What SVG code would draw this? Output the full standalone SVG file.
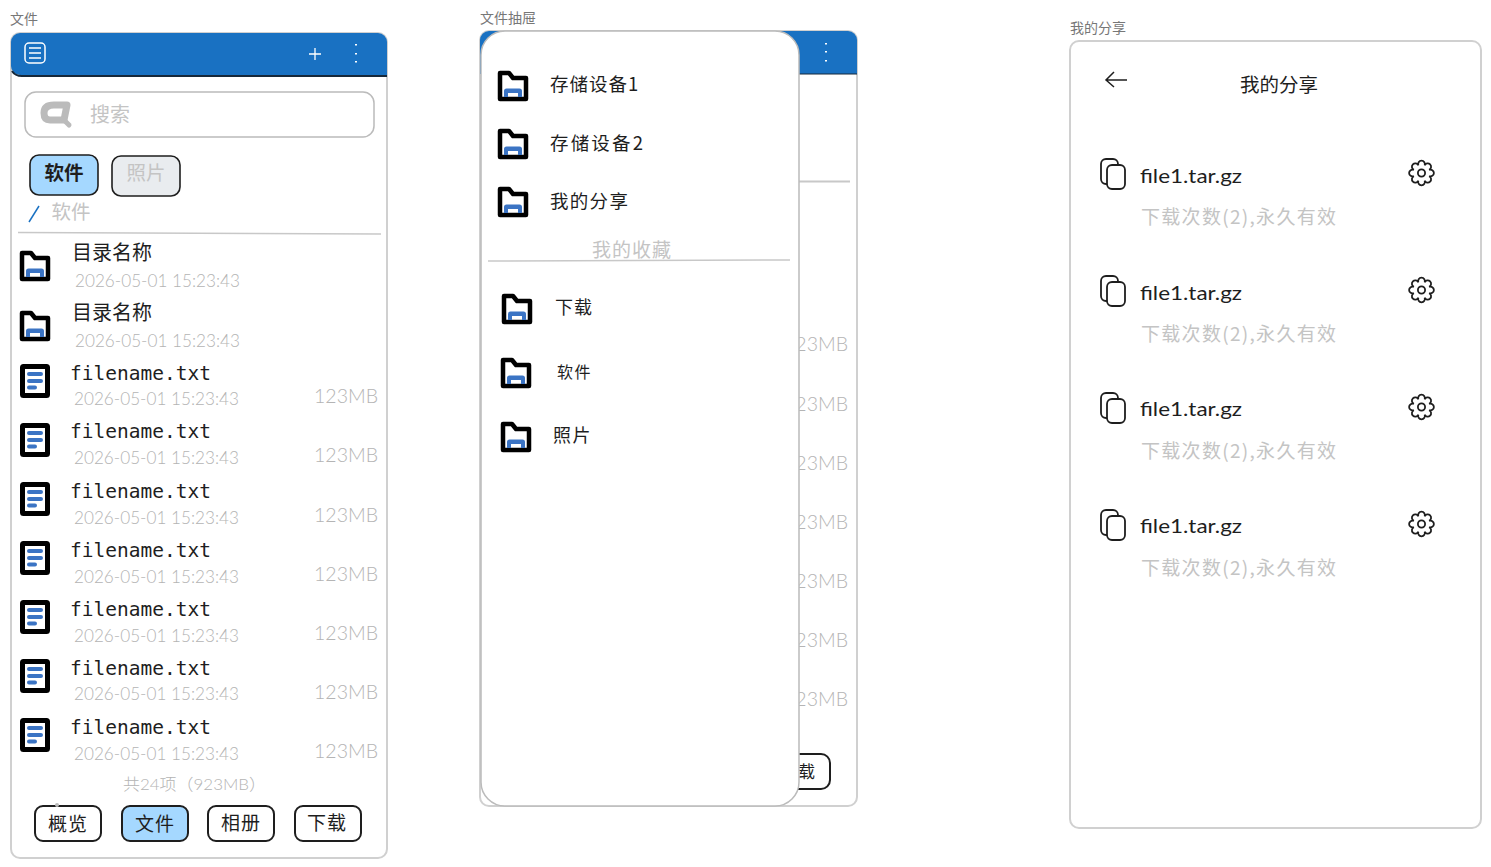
<svg xmlns="http://www.w3.org/2000/svg" width="1491" height="867" viewBox="0 0 1491 867">
<style>
text{font-family:"Noto Sans CJK SC","Liberation Sans",sans-serif;fill:#1e1e1e}
.cap{font-size:14px;fill:#777}
.gr{fill:#c4c4c4}
.lat{font-family:"Lato","Noto Sans CJK SC",sans-serif;font-weight:300;fill:#b4b4b4}
.name{font-size:19.5px;font-family:"DejaVu Sans Mono",monospace;fill:#1e1e1e}
.hand{font-family:"Lato","Noto Sans CJK SC",sans-serif;fill:#1e1e1e;font-size:20px}
.panel{fill:#fff;stroke:#d0d0d0;stroke-width:2}
.btn{fill:#fff;stroke:#1e1e1e;stroke-width:2}
.dv{stroke:#c8c8c8;stroke-width:1.5;fill:none}
.c{text-anchor:middle}
</style>
<defs>
<g id="folder"><path d="M2,2H11L15,7H28V28H2Z" fill="#fff" stroke="#000" stroke-width="4.500" stroke-linejoin="round"/><path d="M6,26V20q0-2.500 2.500-2.500H21.500q2.500 0 2.500 2.500v6h-4v-4H10v4z" fill="#3b74c4"/></g>
<g id="file"><rect x="2.500" y="2.500" width="25" height="29" rx="1" fill="#fff" stroke="#000" stroke-width="5"/><path d="M9,10H21M9,17H21M9,23.500H15" stroke="#3b74c4" stroke-width="4" stroke-linecap="round" fill="none"/></g>
<g id="copy" fill="#fff" stroke="#1e1e1e" stroke-width="1.800"><rect x="1" y="1" width="17" height="25" rx="5"/><rect x="7" y="7" width="18" height="24" rx="5"/></g>
<g id="gear" fill="none" stroke="#1e1e1e" stroke-width="1.800"><path d="M7.600,-3.100A3.400,3.400 0 1 1 7.600,3.100A3.400,3.400 0 1 1 3.100,7.600A3.400,3.400 0 1 1 -3.100,7.600A3.400,3.400 0 1 1 -7.600,3.100A3.400,3.400 0 1 1 -7.600,-3.100A3.400,3.400 0 1 1 -3.100,-7.600A3.400,3.400 0 1 1 3.100,-7.600A3.400,3.400 0 1 1 7.600,-3.100Z"/><circle r="3.600"/></g>
</defs>
<rect width="1491" height="867" fill="#fff"/>

<g id="files-screen">
<text class="cap" x="10" y="24">文件</text>
<rect class="panel" x="11" y="33" width="376" height="825" rx="9"/>
<g id="files-header">
<path d="M11,42a9,9 0 0 1 9-9H378a9,9 0 0 1 9,9V75H20a9,9 0 0 1-9-9Z" fill="#1971c2"/>
<path d="M12,71Q15,76 22,76H387" fill="none" stroke="#16283a" stroke-width="2"/>
<rect x="25" y="43" width="20" height="20" rx="4" fill="none" stroke="#fff" stroke-width="1.500"/>
<path d="M29,48H41M29,53H41M29,58H41" stroke="#fff" stroke-width="1.500" fill="none"/>
<path d="M309,54H321M315,48V60" stroke="#fff" stroke-width="1.300" fill="none"/>
<path d="M356,44v1.500M356,53v1.500M356,61v1.500" stroke="#fff" stroke-width="2" fill="none"/>
</g>
<g id="files-search">
<rect x="25" y="92" width="349" height="45" rx="11" fill="#fff" stroke="#bbb" stroke-width="1.500"/>
<path d="M44,113Q44,105 54,105H67L64,120H50Q44,120 44,113Z" fill="none" stroke="#bbb" stroke-width="7" stroke-linejoin="round"/>
<path d="M63,119L69,125" fill="none" stroke="#bbb" stroke-width="5" stroke-linecap="round"/>
<text class="gr" x="90" y="122" font-size="20">搜索</text>
</g>
<g id="tab-software"><rect x="30" y="155" width="68" height="40" rx="9" fill="#a5d8ff" stroke="#1e1e1e" stroke-width="1.600"/><text class="c" x="64" y="180" font-size="19.500" font-weight="700">软件</text></g>
<g id="tab-photos"><rect x="112" y="156" width="68" height="40" rx="9" fill="#e9ecef" stroke="#1e1e1e" stroke-width="1.600"/><text class="c gr" x="146" y="180" font-size="19.500">照片</text></g>
<g id="breadcrumb"><path d="M29,222L39,206" stroke="#1971c2" stroke-width="1.500" fill="none"/><text class="gr" x="51.500" y="219" font-size="19.500">软件</text></g>
<path class="dv" d="M18,232.500L381,234"/>

<g id="dir-1"><use href="#folder" x="20" y="251"/><text x="72" y="260" font-size="20">目录名称</text><text class="lat" x="75" y="287" font-size="17" textLength="165" lengthAdjust="spacingAndGlyphs">2026-05-01 15:23:43</text></g>
<g id="dir-2"><use href="#folder" x="20" y="311"/><text x="72" y="320" font-size="20">目录名称</text><text class="lat" x="75" y="347" font-size="17" textLength="165" lengthAdjust="spacingAndGlyphs">2026-05-01 15:23:43</text></g>
<g id="file-1"><use href="#file" x="20" y="364"/><text class="name" x="70" y="380">filename.txt</text><text class="lat" x="74" y="405" font-size="17" textLength="165" lengthAdjust="spacingAndGlyphs">2026-05-01 15:23:43</text><text class="lat" x="314" y="403" font-size="20" textLength="64" lengthAdjust="spacingAndGlyphs">123MB</text></g>
<g id="file-2"><use href="#file" x="20" y="423"/><text class="name" x="70" y="438">filename.txt</text><text class="lat" x="74" y="464" font-size="17" textLength="165" lengthAdjust="spacingAndGlyphs">2026-05-01 15:23:43</text><text class="lat" x="314" y="462" font-size="20" textLength="64" lengthAdjust="spacingAndGlyphs">123MB</text></g>
<g id="file-3"><use href="#file" x="20" y="482"/><text class="name" x="70" y="498">filename.txt</text><text class="lat" x="74" y="524" font-size="17" textLength="165" lengthAdjust="spacingAndGlyphs">2026-05-01 15:23:43</text><text class="lat" x="314" y="522" font-size="20" textLength="64" lengthAdjust="spacingAndGlyphs">123MB</text></g>
<g id="file-4"><use href="#file" x="20" y="541"/><text class="name" x="70" y="557">filename.txt</text><text class="lat" x="74" y="583" font-size="17" textLength="165" lengthAdjust="spacingAndGlyphs">2026-05-01 15:23:43</text><text class="lat" x="314" y="581" font-size="20" textLength="64" lengthAdjust="spacingAndGlyphs">123MB</text></g>
<g id="file-5"><use href="#file" x="20" y="600"/><text class="name" x="70" y="616">filename.txt</text><text class="lat" x="74" y="642" font-size="17" textLength="165" lengthAdjust="spacingAndGlyphs">2026-05-01 15:23:43</text><text class="lat" x="314" y="640" font-size="20" textLength="64" lengthAdjust="spacingAndGlyphs">123MB</text></g>
<g id="file-6"><use href="#file" x="20" y="659"/><text class="name" x="70" y="675">filename.txt</text><text class="lat" x="74" y="700" font-size="17" textLength="165" lengthAdjust="spacingAndGlyphs">2026-05-01 15:23:43</text><text class="lat" x="314" y="699" font-size="20" textLength="64" lengthAdjust="spacingAndGlyphs">123MB</text></g>
<g id="file-7"><use href="#file" x="20" y="718"/><text class="name" x="70" y="734">filename.txt</text><text class="lat" x="74" y="760" font-size="17" textLength="165" lengthAdjust="spacingAndGlyphs">2026-05-01 15:23:43</text><text class="lat" x="314" y="758" font-size="20" textLength="64" lengthAdjust="spacingAndGlyphs">123MB</text></g>
<text id="files-total" class="lat" x="123" y="790" font-size="16" textLength="143" lengthAdjust="spacingAndGlyphs">共24项（923MB）</text>
<g id="nav-overview"><rect class="btn" x="35" y="806" width="66" height="35" rx="8"/><text class="c" x="68" y="831" font-size="19" letter-spacing="1">概览</text></g>
<g id="nav-files"><rect class="btn" x="122" y="806" width="66" height="35" rx="8" style="fill:#a5d8ff"/><text class="c" x="155" y="831" font-size="19" letter-spacing="1">文件</text></g>
<g id="nav-album"><rect class="btn" x="208" y="806" width="66" height="35" rx="8"/><text class="c" x="241" y="830" font-size="19" letter-spacing="1">相册</text></g>
<g id="nav-download"><rect class="btn" x="295" y="806" width="66" height="35" rx="8"/><text class="c" x="327" y="830" font-size="19" letter-spacing="1">下载</text></g>
<circle cx="57" cy="805" r="2" fill="#bbb"/>
</g>

<g id="drawer-screen">
<text class="cap" x="480" y="23">文件抽屉</text>
<rect class="panel" x="480" y="31" width="377" height="775" rx="9"/>
<path d="M480,40a9,9 0 0 1 9-9H848a9,9 0 0 1 9,9V74H480Z" fill="#1971c2"/>
<path d="M798,74H857" stroke="#16283a" stroke-width="1"/>
<path d="M826,43v1.500M826,51v1.500M826,60v1.500" stroke="#fff" stroke-width="2" fill="none"/>
<path class="dv" d="M798,181.500H850" style="stroke-width:2"/>
<text class="lat" x="784" y="351" font-size="20" textLength="64" lengthAdjust="spacingAndGlyphs">123MB</text>
<text class="lat" x="784" y="411" font-size="20" textLength="64" lengthAdjust="spacingAndGlyphs">123MB</text>
<text class="lat" x="784" y="470" font-size="20" textLength="64" lengthAdjust="spacingAndGlyphs">123MB</text>
<text class="lat" x="784" y="529" font-size="20" textLength="64" lengthAdjust="spacingAndGlyphs">123MB</text>
<text class="lat" x="784" y="588" font-size="20" textLength="64" lengthAdjust="spacingAndGlyphs">123MB</text>
<text class="lat" x="784" y="647" font-size="20" textLength="64" lengthAdjust="spacingAndGlyphs">123MB</text>
<text class="lat" x="784" y="706" font-size="20" textLength="64" lengthAdjust="spacingAndGlyphs">123MB</text>
<rect class="btn" x="765" y="754" width="65" height="35" rx="9"/>
<text x="798" y="778" font-size="17">载</text>
<g id="drawer">
<rect x="481" y="31" width="318" height="775" rx="24" fill="#fff" stroke="#bbb" stroke-width="1.500"/>
<g id="device-1"><use href="#folder" x="498" y="71"/><text x="550" y="91" font-size="18.500" letter-spacing="1">存储设备1</text></g>
<g id="device-2"><use href="#folder" x="498" y="129"/><text x="550" y="150" font-size="18.500" textLength="93">存储设备2</text></g>
<g id="my-share"><use href="#folder" x="498" y="187"/><text x="550" y="208" font-size="18.500" letter-spacing="1.300">我的分享</text></g>
<text class="c gr" x="632" y="257" font-size="19" letter-spacing="1">我的收藏</text>
<path class="dv" d="M488,261L790,260"/>
<g id="fav-download"><use href="#folder" x="502" y="294"/><text x="555" y="314" font-size="18" letter-spacing="1">下载</text></g>
<g id="fav-software"><use href="#folder" x="501" y="358"/><text x="557" y="378" font-size="16" letter-spacing="1.500">软件</text></g>
<g id="fav-photos"><use href="#folder" x="501" y="422"/><text x="553" y="442" font-size="18" letter-spacing="1.500">照片</text></g>
</g>
</g>

<g id="share-screen">
<text class="cap" x="1070" y="33">我的分享</text>
<rect class="panel" x="1070" y="41" width="411" height="787" rx="9"/>
<path id="back-arrow" d="M1127,80H1106M1114,72L1106,80L1114,87" fill="none" stroke="#1e1e1e" stroke-width="1.500"/>
<text class="c" x="1279" y="92" font-size="19.500">我的分享</text>
<g id="share-1"><use href="#copy" x="1100" y="158"/><text class="hand" x="1140" y="183" textLength="102" lengthAdjust="spacingAndGlyphs">file1.tar.gz</text><use href="#gear" x="1421.500" y="173"/><text class="gr" x="1141" y="224" font-size="19" textLength="195">下载次数(2),永久有效</text></g>
<g id="share-2"><use href="#copy" x="1100" y="275"/><text class="hand" x="1140" y="300" textLength="102" lengthAdjust="spacingAndGlyphs">file1.tar.gz</text><use href="#gear" x="1421.500" y="290"/><text class="gr" x="1141" y="341" font-size="19" textLength="195">下载次数(2),永久有效</text></g>
<g id="share-3"><use href="#copy" x="1100" y="392"/><text class="hand" x="1140" y="416" textLength="102" lengthAdjust="spacingAndGlyphs">file1.tar.gz</text><use href="#gear" x="1421.500" y="407"/><text class="gr" x="1141" y="458" font-size="19" textLength="195">下载次数(2),永久有效</text></g>
<g id="share-4"><use href="#copy" x="1100" y="509"/><text class="hand" x="1140" y="533" textLength="102" lengthAdjust="spacingAndGlyphs">file1.tar.gz</text><use href="#gear" x="1421.500" y="524"/><text class="gr" x="1141" y="575" font-size="19" textLength="195">下载次数(2),永久有效</text></g>
</g>
</svg>
